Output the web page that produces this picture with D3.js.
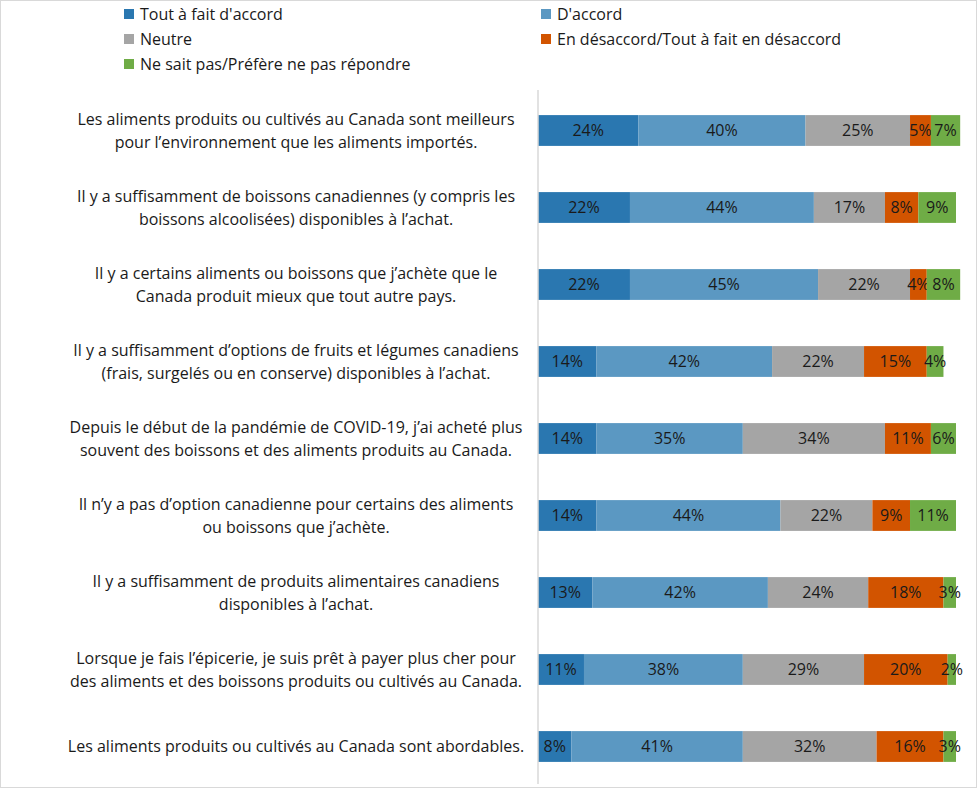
<!DOCTYPE html>
<html><head><meta charset="utf-8">
<script src="https://cdn.jsdelivr.net/npm/d3@7"></script>
<style>body{margin:0;background:#fff}svg{display:block}text{font-family:"Open Sans",Lato,sans-serif}</style>
</head><body><svg id="c" width="977" height="788"></svg>
<script>
const categories = [
  "Les aliments produits ou cultivés au Canada sont meilleurs\npour l’environnement que les aliments importés.",
  "Il y a suffisamment de boissons canadiennes (y compris les\nboissons alcoolisées) disponibles à l’achat.",
  "Il y a certains aliments ou boissons que j’achète que le\nCanada produit mieux que tout autre pays.",
  "Il y a suffisamment d’options de fruits et légumes canadiens\n(frais, surgelés ou en conserve) disponibles à l’achat.",
  "Depuis le début de la pandémie de COVID-19, j’ai acheté plus\nsouvent des boissons et des aliments produits au Canada.",
  "Il n’y a pas d’option canadienne pour certains des aliments\nou boissons que j’achète.",
  "Il y a suffisamment de produits alimentaires canadiens\ndisponibles à l’achat.",
  "Lorsque je fais l’épicerie, je suis prêt à payer plus cher pour\ndes aliments et des boissons produits ou cultivés au Canada.",
  "Les aliments produits ou cultivés au Canada sont abordables."
];
const seriesNames = ["Tout à fait d'accord","D'accord","Neutre","En désaccord/Tout à fait en désaccord","Ne sait pas/Préfère ne pas répondre"];
const toutAFait = [24,22,22,14,14,14,13,11,8];
const daccord   = [40,44,45,42,35,44,42,38,41];
const neutre    = [25,17,22,22,34,22,24,29,32];
const desaccord = [5,8,4,15,11,9,18,20,16];
const nsp       = [7,9,8,4,6,11,3,2,3];
const colors = ["#2a77b0","#5b98c2","#a5a5a5","#d25400","#6fac46"];

const FS = 16;
const series = [toutAFait,daccord,neutre,desaccord,nsp];
const rows = categories.map((c,i)=>{const o={cat:c};seriesNames.forEach((s,j)=>o[s]=series[j][i]);return o;});
const stacked = d3.stack().keys(seriesNames)(rows);

const svg = d3.select("#c");
svg.append("rect").attr("x",0.5).attr("y",0.5).attr("width",976).attr("height",787).attr("fill","#fff").attr("stroke","#d9d9d9");

const x = d3.scaleLinear().domain([0,100]).range([538,956]);
const y = d3.scaleBand().domain(categories).range([92,785]).paddingInner(0.6).paddingOuter(0.3);

const g = svg.append("g");
stacked.forEach((s,j)=>{
  const sg = g.append("g");
  sg.selectAll("rect").data(s).join("rect")
    .attr("x",d=>x(d[0])).attr("width",d=>x(d[1])-x(d[0]))
    .attr("y",d=>y(d.data.cat)).attr("height",y.bandwidth())
    .attr("fill",colors[j]);
  sg.selectAll("text").data(s).join("text")
    .attr("x",d=>(x(d[0])+x(d[1]))/2).attr("y",d=>y(d.data.cat)+y.bandwidth()/2)
    .attr("dy","0.35em").attr("text-anchor","middle").attr("font-size",FS).attr("fill","#1a1a1a")
    .text(d=>(d[1]-d[0])+"%");
});

svg.append("line").attr("x1",538).attr("x2",538).attr("y1",90).attr("y2",784).attr("stroke","#d9d9d9").attr("stroke-width",1.5);

categories.forEach(c=>{
  const lines = c.split("\n");
  const cy = y(c)+y.bandwidth()/2;
  const t = svg.append("text").attr("text-anchor","middle").attr("font-size",FS).attr("fill","#1a1a1a");
  lines.forEach((l,i)=>{
    t.append("tspan").attr("x",296).attr("y",cy+(i-(lines.length-1)/2)*23).attr("dy","0.35em").text(l);
  });
});

const legPos = [[124,14],[541,14],[124,39],[541,39],[124,64]];
seriesNames.forEach((s,j)=>{
  const [lx,ly]=legPos[j];
  svg.append("rect").attr("x",lx).attr("y",ly-5).attr("width",10).attr("height",10).attr("fill",colors[j]);
  svg.append("text").attr("x",lx+16).attr("y",ly).attr("dy","0.35em").attr("font-size",FS).attr("fill","#1a1a1a").text(s);
});
</script></body></html>
